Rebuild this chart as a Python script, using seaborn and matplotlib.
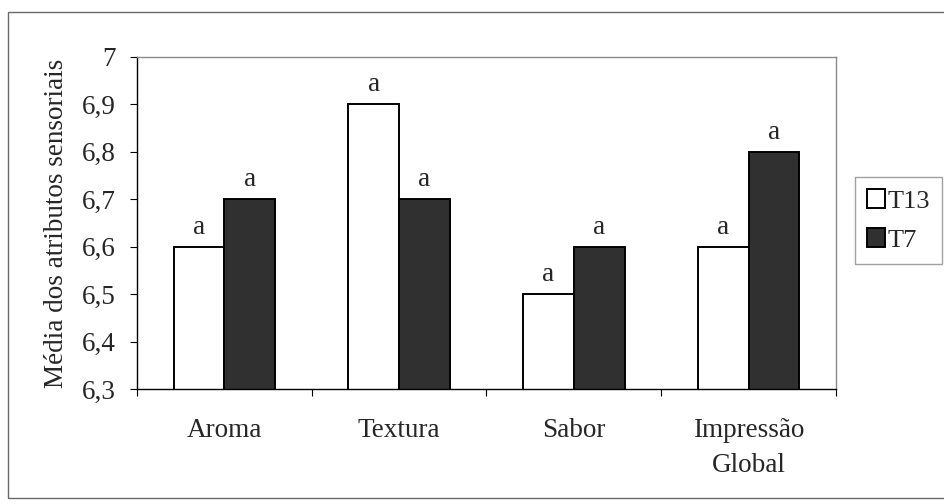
import matplotlib
matplotlib.use("Agg")
import matplotlib.pyplot as plt
from matplotlib.patches import Rectangle
import seaborn as sns
import pandas as pd

# Sensory attribute means per treatment
atributos = ["Aroma", "Textura", "Sabor", "Impressão\nGlobal"]
t13 = [6.6, 6.9, 6.5, 6.6]
t7 = [6.7, 6.7, 6.6, 6.8]
letras_t13 = ["a", "a", "a", "a"]
letras_t7 = ["a", "a", "a", "a"]
tratamentos = ["T13", "T7"]
y_ticks = [6.3, 6.4, 6.5, 6.6, 6.7, 6.8, 6.9, 7.0]
y_tick_labels = ["6,3", "6,4", "6,5", "6,6", "6,7", "6,8", "6,9", "7"]

df = pd.DataFrame({
    "atributo": atributos * 2,
    "media": t13 + t7,
    "tratamento": [tratamentos[0]] * len(atributos) + [tratamentos[1]] * len(atributos),
})

sns.set_style("white")
plt.rcParams["font.family"] = ["Liberation Serif", "DejaVu Serif"]
FS = 19.5

fig = plt.figure(figsize=(9.45, 5.04), dpi=100)
ax = fig.add_axes([137 / 945, 1 - 389 / 504, (836 - 137) / 945, (389 - 57) / 504])

sns.barplot(
    data=df, x="atributo", y="media", hue="tratamento",
    order=atributos, hue_order=tratamentos,
    palette=["white", "#303030"], edgecolor="black", linewidth=1.4,
    width=0.58, saturation=1, ax=ax, legend=True,
)

ax.set_ylim(6.3, 7.0)
ax.set_yticks(y_ticks)
ax.set_yticklabels(y_tick_labels, fontsize=FS)
ax.set_xlim(-0.5, len(atributos) - 0.5)
ax.set_xticks([i - 0.5 for i in range(len(atributos) + 1)], minor=False)
ax.set_xticklabels([])
ax.set_xticks(range(len(atributos)), minor=True)
ax.set_xticklabels(atributos, minor=True, fontsize=FS, linespacing=1.5)
ax.tick_params(axis="x", which="minor", length=0, pad=21)
ax.tick_params(axis="x", which="major", direction="out", length=5, width=0.8, color="black", bottom=True)
ax.tick_params(axis="y", direction="out", length=5, width=0.8, color="black", left=True, pad=10)
ax.set_xlabel("")
ax.set_ylabel("Média dos atributos sensoriais", fontsize=FS)
ax.yaxis.set_label_coords(-0.097, 0.5)

for side in ("top", "right"):
    ax.spines[side].set_color("#8a8a8a")
    ax.spines[side].set_linewidth(1.0)
for side in ("left", "bottom"):
    ax.spines[side].set_color("black")
    ax.spines[side].set_linewidth(1.0)

# Significance letters above each bar
for container, letras in zip(ax.containers, [letras_t13, letras_t7]):
    ax.bar_label(container, labels=letras, padding=5, fontsize=FS)

# Legend box to the right of the plot area
handles, labels = ax.get_legend_handles_labels()
ax.get_legend().remove()
leg = fig.legend(
    handles, labels, loc="center", bbox_to_anchor=(898.5 / 945, 1 - 220.5 / 504),
    frameon=True, fancybox=False, edgecolor="#8a8a8a", fontsize=19,
    handlelength=0.7, handleheight=0.7, handletextpad=0.1,
    labelspacing=0.6, borderpad=0.45, borderaxespad=0,
)
leg.get_frame().set_linewidth(1.0)

# Outer chart frame
fig.patches.append(Rectangle(
    (8 / 945, 1 - 498 / 504), 1.2, (498 - 12) / 504,
    transform=fig.transFigure, fill=False, edgecolor="#6a6a6a", linewidth=1.0,
))

fig.savefig("out.png", dpi=100)
